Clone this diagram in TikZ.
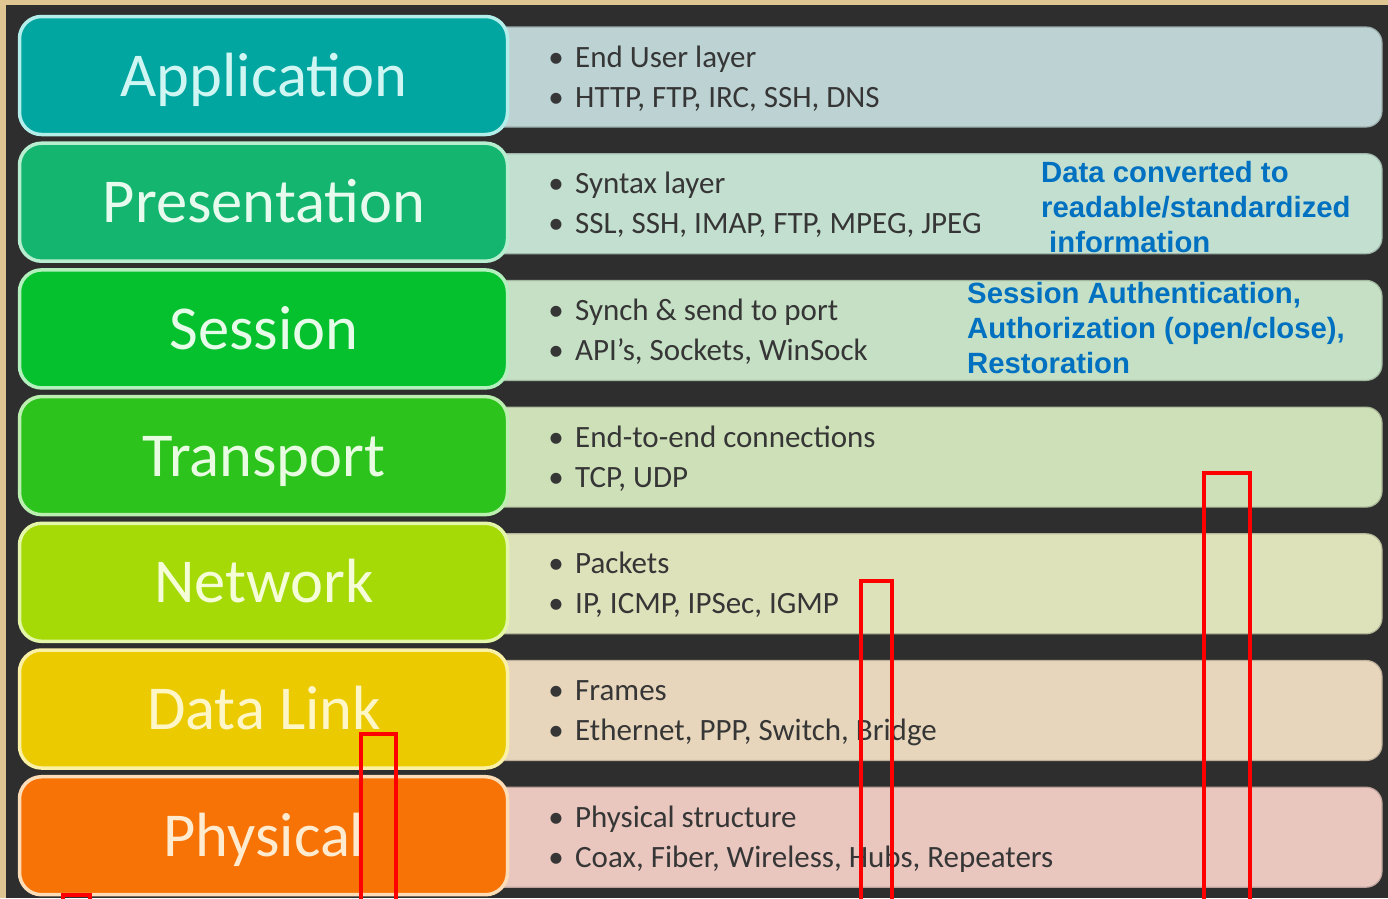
\documentclass[tikz,border=0pt]{standalone}
\usepackage{fontspec}
\setmainfont{Carlito}
\newfontfamily\notefont{Liberation Sans}
\definecolor{marble}{HTML}{DFC592}
\definecolor{panel}{HTML}{2E2E2E}
\definecolor{textgray}{HTML}{363636}
\definecolor{noteblue}{HTML}{0070C0}
% layer colours: box fill, box edge, label text, info strip
\definecolor{appF}{HTML}{00A69F}\definecolor{appE}{HTML}{B4EEEA}\definecolor{appT}{HTML}{CFF6F2}\definecolor{appI}{HTML}{BDD3D3}
\definecolor{preF}{HTML}{14B56F}\definecolor{preE}{HTML}{B8EED0}\definecolor{preT}{HTML}{E6FBEE}\definecolor{preI}{HTML}{C3DFD0}
\definecolor{sesF}{HTML}{05C12E}\definecolor{sesE}{HTML}{B4F0BE}\definecolor{sesT}{HTML}{E6FCE8}\definecolor{sesI}{HTML}{C5E0C4}
\definecolor{traF}{HTML}{2CC31C}\definecolor{traE}{HTML}{BCF0B0}\definecolor{traT}{HTML}{E8FCE2}\definecolor{traI}{HTML}{CEE0B8}
\definecolor{netF}{HTML}{A6DA06}\definecolor{netE}{HTML}{E4F6A8}\definecolor{netT}{HTML}{F4FCD8}\definecolor{netI}{HTML}{DEE2BA}
\definecolor{dlkF}{HTML}{EBCB00}\definecolor{dlkE}{HTML}{FAF0A6}\definecolor{dlkT}{HTML}{FFF6C8}\definecolor{dlkI}{HTML}{E7D6BB}
\definecolor{phyF}{HTML}{F87306}\definecolor{phyE}{HTML}{FCDDB8}\definecolor{phyT}{HTML}{FFEBCF}\definecolor{phyI}{HTML}{E9C7BF}
\begin{document}
\begin{tikzpicture}[x=1pt,y=-1pt,
  layerbox/.style={draw, line width=3.5pt, rounded corners=22pt,
    minimum width=488pt, minimum height=118pt, inner sep=0pt},
  layername/.style={anchor=base, inner sep=0pt, font=\fontsize{62.5}{62.5}\selectfont},
  infobox/.style={rounded corners=16pt, minimum width=902pt,
    minimum height=100pt, inner sep=0pt, line width=1.2pt},
  dot/.style={anchor=base, inner sep=0pt, text=textgray, font=\fontsize{31}{31}\selectfont},
  entry/.style={anchor=base west, inner sep=0pt, text=textgray, font=\fontsize{31}{31}\selectfont},
  note/.style={anchor=base west, inner sep=0pt, text=noteblue,
    font=\notefont\bfseries\fontsize{29.3}{29.3}\selectfont},
  redbox/.style={draw=red, line width=4.3pt, line join=miter}
]
\useasboundingbox (0,0) rectangle (1388,898);
% stone backdrop and dark slide area
\fill[marble] (0,0) rectangle (1388,898);
\fill[panel] (6,5) rectangle (1388,898);

\foreach \i/\key/\name/\lineA/\lineB in {
  0/app/Application/{End User layer}/{HTTP, FTP, IRC, SSH, DNS},
  1/pre/Presentation/{Syntax layer}/{SSL, SSH, IMAP, FTP, MPEG, JPEG},
  2/ses/Session/{Synch \& send to port}/{API’s, Sockets, WinSock},
  3/tra/Transport/{End-to-end connections}/{TCP, UDP},
  4/net/Network/{Packets}/{IP, ICMP, IPSec, IGMP},
  5/dlk/Data Link/{Frames}/{Ethernet, PPP, Switch, Bridge},
  6/phy/Physical/{Physical structure}/{Coax, Fiber, Wireless, Hubs, Repeaters}}
{
  \pgfmathsetmacro{\y}{126.7*\i}
  % description strip, tucked under the coloured layer box
  \node[infobox, fill=\key I, draw=\key I!82!black] (R\i) at (931,77+\y) {};
  \node[dot] (DA\i) at (556,67+\y) {•};
  \node[entry] (A\i) at (575,67+\y) {\lineA};
  \node[dot] (DB\i) at (556,107+\y) {•};
  \node[entry] (B\i) at (575,107+\y) {\lineB};
  % coloured layer box with its name
  \node[layerbox, fill=\key F, draw=\key E] (L\i) at (263.5,75.5+\y) {};
  \node[layername, text=\key T] (N\i) at (264,96+\y) {\name};
}

% notes written over the presentation and session strips
\node[note] (p1) at (1041,182) {Data converted to};
\node[note] (p2) at (1041,217) {readable/standardized};
\node[note] (p3) at (1049,252) {information};
\node[note] (s1) at (967,303) {Session Authentication,};
\node[note] (s2) at (967,338) {Authorization (open/close),};
\node[note] (s3) at (967,373) {Restoration};

% red marker frames running off the bottom edge
\draw[redbox] (361,910) |- (396,734) -- (396,910);
\draw[redbox] (861,910) |- (892,581) -- (892,910);
\draw[redbox] (1204,910) |- (1250,473) -- (1250,910);
\draw[redbox] (63,910) |- (90,895) -- (90,910);
\end{tikzpicture}
\end{document}
